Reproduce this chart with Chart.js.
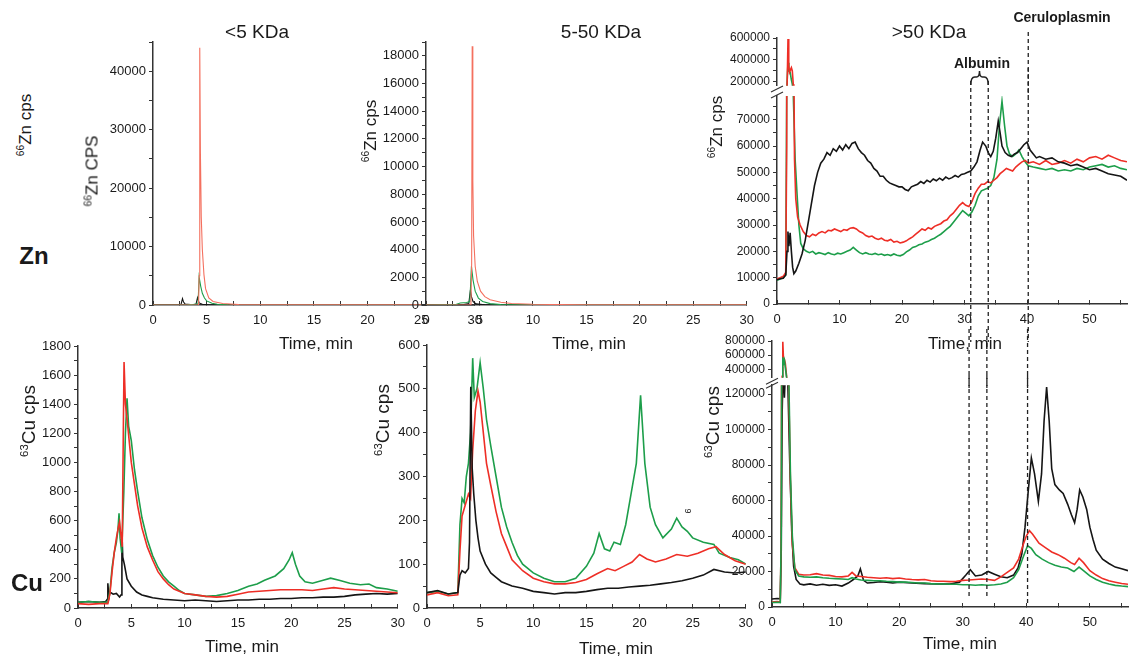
<!DOCTYPE html>
<html>
<head>
<meta charset="utf-8">
<script src="https://cdn.jsdelivr.net/npm/chart.js@4"></script>
<style>
  body { margin: 0; background: #fff; }
  #stage { position: relative; width: 1134px; height: 662px; overflow: hidden; background: #fff;
           font-family: "Liberation Sans", Arial, sans-serif; color: #1a1a1a; }
  #stage canvas { position: absolute; }
  .lbl { position: absolute; white-space: nowrap; transform: translate(-50%, -50%); line-height: 1; }
  .rot { transform: translate(-50%, -50%) rotate(-90deg); }
  .lbl sup { font-size: 0.6em; vertical-align: 0.6em; line-height: 0; }
</style>
</head>
<body>
<div id="stage"></div>
<script>
// ---- Zn, <5 KDa (time min, cps)
const znLowBlack = [[0,0],[2.6,0],[2.75,1100],[2.85,500],[3.0,150],[3.5,60],[4.0,80],[4.15,1250],[4.3,350],[4.6,120],[5.2,20],[8,0],[25,0]];
const znLowGreen = [[0,0],[3.2,40],[3.8,120],[4.2,200],[4.3,4800],[4.45,3200],[4.6,2000],[4.8,1200],[5.0,700],[5.5,300],[6.0,120],[7,40],[10,10],[25,0]];
const znLowRed = [[0,0],[4.25,0],[4.3,5000],[4.36,44000],[4.42,26000],[4.5,15000],[4.6,9500],[4.75,5200],[4.9,2800],[5.2,1200],[5.6,600],[6.5,250],[8,80],[10,40],[15,20],[25,15]];

// ---- Zn, 5-50 KDa
const znMidBlack = [[0,0],[2.5,0],[3.5,30],[4.0,100],[4.15,1050],[4.25,600],[4.4,250],[4.7,80],[5.5,10],[30,0]];
const znMidGreen = [[0,0],[2.8,40],[3.2,150],[3.8,180],[4.1,250],[4.25,2800],[4.4,1800],[4.6,1000],[4.9,500],[5.3,250],[6,100],[7,30],[30,0]];
const znMidRed = [[0,0],[4.2,0],[4.27,3000],[4.32,18700],[4.38,9000],[4.45,5000],[4.6,2800],[4.8,1700],[5.1,1000],[5.5,600],[6,380],[7,200],[8,110],[10,50],[15,20],[30,10]];

// ---- Zn, >50 KDa
const znHighBlack = [[0,9200],[0.5,9600],[1.0,9800],[1.4,11000],[1.6,20000],[1.75,27500],[1.9,22000],[2.1,27000],[2.3,20000],[2.5,14000],[2.7,11500],[3.0,12500],[3.5,15500],[4.0,19000],[4.5,24000],[5.0,31000],[5.5,38000],[6.0,45000],[6.5,50000],[7.0,53500],[7.5,55000],[8.0,57500],[8.5,56500],[9.0,59000],[9.5,58000],[10,60000],[10.5,58500],[11,60500],[11.5,59000],[12,61000],[12.5,61500],[13,59000],[13.5,57500],[14,56500],[14.5,54500],[15,53500],[15.5,51500],[16,50500],[16.5,48500],[17,48500],[17.5,47000],[18,46000],[18.5,45500],[19,45000],[19.5,44500],[20,44500],[20.5,43500],[21,43000],[21.5,44500],[22,45000],[22.5,45500],[23,46500],[23.5,45800],[24,47000],[24.5,46300],[25,47500],[25.5,46800],[26,47800],[26.5,47000],[27,48200],[27.5,47500],[28,48000],[28.5,48800],[29,48200],[29.5,49200],[30,49500],[30.5,50000],[31,50500],[31.5,52000],[32,54000],[32.5,58500],[32.9,61500],[33.4,60000],[33.8,57500],[34.2,56000],[34.6,58000],[35,63000],[35.4,69500],[35.7,65000],[36,60000],[36.5,57500],[37,56500],[37.5,56000],[38,57000],[38.5,57500],[39,59000],[39.5,60500],[40,61500],[40.5,58500],[41,57000],[41.5,55500],[42,56000],[43,55000],[44,55500],[45,54000],[46,53500],[47,52500],[48,53000],[49,52000],[50,51000],[51,51500],[52,50500],[53,49500],[54,49000],[55,48500],[56,47000]];
const znHighRed = [[0,9500],[0.5,10000],[1.0,10500],[1.4,12000],[1.55,60000],[1.65,250000],[1.76,590000],[1.88,350000],[2.0,290000],[2.15,310000],[2.3,330000],[2.45,300000],[2.6,180000],[2.7,90000],[2.8,55000],[3.0,40000],[3.3,33000],[3.7,30000],[4.2,27500],[4.7,26000],[5.2,25500],[5.7,26500],[6.2,26000],[6.7,27000],[7.2,27500],[7.7,27000],[8.2,28000],[8.7,27800],[9.2,28500],[9.7,28000],[10.2,27500],[10.7,28300],[11.2,28000],[11.7,28800],[12.2,29000],[12.7,28500],[13.2,27500],[13.7,27000],[14.2,26000],[14.7,25500],[15.2,25800],[15.7,25000],[16.2,24500],[16.7,25000],[17.2,24200],[17.7,24000],[18.2,24500],[18.7,23500],[19.2,23800],[19.7,23200],[20.2,23500],[20.7,24000],[21.2,24800],[21.7,25500],[22.2,26500],[22.7,27500],[23.2,28500],[23.7,28000],[24.2,29000],[24.7,28500],[25.2,29500],[25.7,30000],[26.2,30500],[26.7,31500],[27.2,32000],[27.7,33500],[28.2,34500],[28.7,36000],[29.2,37500],[29.7,38500],[30.2,37500],[30.7,37000],[31.2,39000],[31.7,42000],[32.2,44000],[32.7,45500],[33.2,45500],[33.7,46500],[34.2,46000],[34.7,47000],[35.2,48000],[35.7,49500],[36.2,50500],[36.7,51500],[37.2,51000],[37.7,50500],[38.2,52000],[38.7,53000],[39.2,54000],[39.7,54500],[40.2,53500],[41,54000],[42,53000],[43,54500],[44,53000],[45,53500],[46,54500],[47,53500],[48,55000],[49,54000],[50,55500],[51,56000],[52,55000],[53,56500],[54,55500],[55,54500],[56,54000]];
const znHighGreen = [[0,9000],[0.5,9500],[1.0,10000],[1.4,11000],[1.55,80000],[1.65,250000],[1.76,375000],[1.9,300000],[2.1,290000],[2.3,220000],[2.45,180000],[2.6,80000],[2.9,55000],[3.2,42000],[3.5,30000],[3.8,23000],[4.2,21000],[4.7,20000],[5.2,19500],[5.7,20000],[6.2,19000],[6.7,19500],[7.2,19200],[7.7,18800],[8.2,19500],[8.7,19000],[9.2,18700],[9.7,19300],[10.2,19000],[10.7,19500],[11.2,20000],[11.7,20500],[12.2,21500],[12.7,20500],[13.2,19500],[13.7,19000],[14.2,19500],[14.7,19000],[15.2,18800],[15.7,19200],[16.2,18700],[16.7,19000],[17.2,18500],[17.7,18800],[18.2,18400],[18.7,19000],[19.2,18500],[19.7,18300],[20.2,18800],[20.7,19800],[21.2,20500],[21.7,21500],[22.2,21800],[22.7,22500],[23.2,22800],[23.7,23500],[24.2,23800],[24.7,24500],[25.2,25000],[25.7,25800],[26.2,26500],[26.7,27500],[27.2,28500],[27.7,29500],[28.2,31000],[28.7,32500],[29.2,34000],[29.7,35500],[30.2,34500],[30.7,33500],[31.2,35000],[31.7,37500],[32.2,41000],[32.7,43000],[33.2,43500],[33.7,44000],[34.2,45000],[34.7,48000],[35.2,55000],[35.6,68000],[36,77000],[36.4,68000],[36.8,60000],[37.2,57000],[37.7,56000],[38.2,57000],[38.7,58500],[39.2,56000],[39.7,54000],[40.2,52500],[41,52000],[42,51500],[43,51000],[44,51500],[45,50500],[46,51000],[47,50500],[48,51500],[49,51000],[50,52000],[51,52500],[52,53000],[53,52000],[54,52500],[55,51500],[56,51000]];

// ---- Cu, <5 KDa
const cuLowBlack = [[0,40],[1,45],[2,40],[2.6,45],[2.75,60],[2.8,170],[2.9,70],[3.0,110],[3.3,95],[3.6,100],[3.9,75],[4.05,90],[4.12,520],[4.2,350],[4.35,300],[4.6,200],[5,150],[5.5,110],[6,90],[6.5,80],[7,70],[8,60],[9,55],[10,50],[11,55],[12,50],[13,45],[14,50],[15,55],[16,55],[17,60],[18,60],[19,65],[20,65],[21,70],[22,70],[23,75],[24,75],[25,80],[26,90],[27,95],[28,100],[29,95],[30,100]];
const cuLowRed = [[0,30],[1,25],[2,30],[2.8,30],[3.0,100],[3.2,250],[3.4,380],[3.6,480],[3.8,560],[3.9,590],[4.0,520],[4.15,420],[4.25,1200],[4.32,1690],[4.45,1400],[4.6,1300],[4.8,1150],[5.0,1000],[5.3,850],[5.6,700],[6.0,550],[6.5,420],[7,330],[7.5,250],[8,200],[8.5,160],[9,130],[9.5,115],[10,100],[11,90],[12,80],[13,75],[14,80],[15,95],[16,110],[17,115],[18,120],[19,125],[20,125],[21,125],[22,120],[23,130],[24,140],[25,130],[26,125],[27,120],[28,115],[29,110],[30,105]];
const cuLowGreen = [[0,40],[1,45],[2,40],[2.8,40],[3.0,120],[3.2,280],[3.4,380],[3.6,450],[3.75,540],[3.85,650],[3.95,480],[4.1,380],[4.3,800],[4.45,1200],[4.6,1440],[4.75,1250],[5.0,1150],[5.3,950],[5.6,800],[6.0,620],[6.5,470],[7,360],[7.5,280],[8,220],[8.5,180],[9,150],[9.5,120],[10,100],[11,90],[12,80],[13,85],[14,100],[15,120],[16,150],[16.8,165],[17.5,190],[18.5,220],[19.3,270],[19.8,330],[20.1,380],[20.4,300],[20.8,220],[21.3,180],[22,170],[23,190],[23.7,205],[24.5,190],[25.5,170],[26.5,160],[27.3,165],[28,140],[29,130],[30,115]];

// ---- Cu, 5-50 KDa
const cuMidBlack = [[0,35],[1,40],[2,32],[2.9,35],[3.1,75],[3.3,85],[3.6,80],[3.9,90],[4.0,150],[4.12,505],[4.25,320],[4.4,260],[4.6,200],[4.8,160],[5,130],[5.5,100],[6,80],[6.5,70],[7,60],[8,50],[9,45],[10,38],[11,35],[12,32],[13,35],[14,35],[15,38],[16,42],[17,45],[18,45],[19,48],[20,50],[21,52],[22,55],[23,58],[24,62],[25,68],[26,75],[27,88],[28,82],[29,80],[30,82]];
const cuMidRed = [[0,30],[1,35],[2,28],[2.9,30],[3.1,130],[3.3,210],[3.6,235],[3.9,260],[4.1,250],[4.3,360],[4.55,450],[4.8,495],[5.0,470],[5.3,400],[5.6,330],[6,280],[6.5,220],[7,170],[7.5,140],[8,110],[9,85],[10,68],[11,60],[12,55],[13,55],[14,58],[15,65],[16,78],[17,90],[17.7,85],[18.5,95],[19.3,105],[20,122],[20.7,112],[21.5,105],[22.5,112],[23.5,122],[24.5,118],[25.5,125],[26.5,135],[27.2,140],[28,122],[29,108],[30,100]];
const cuMidGreen = [[0,35],[1,38],[2,32],[2.9,35],[3.1,190],[3.3,250],[3.5,240],[3.7,300],[3.9,330],[4.1,400],[4.3,570],[4.45,480],[4.7,500],[5.0,560],[5.3,500],[5.6,430],[6,370],[6.5,300],[7,230],[7.5,185],[8,150],[8.5,120],[9,100],[10,80],[11,68],[12,60],[13,60],[14,68],[15,95],[15.7,125],[16.2,170],[16.7,135],[17.2,130],[17.6,150],[18.2,145],[18.7,190],[19.2,260],[19.7,330],[20.1,485],[20.5,330],[21,230],[21.5,190],[22.2,160],[23,180],[23.5,205],[24,185],[24.5,175],[25,160],[26,150],[27,145],[27.5,125],[28.5,115],[29.3,110],[30,100]];

// ---- Cu, >50 KDa
const cuHighBlack = [[0,4500],[0.8,4800],[1.3,4600],[1.45,30000],[1.6,110000],[1.75,135000],[1.95,118000],[2.2,140000],[2.5,125000],[2.8,80000],[3.1,43000],[3.4,23000],[3.8,15500],[4.4,13000],[5,12500],[6,13000],[7,12300],[8,12800],[9,12200],[10,12500],[11,11800],[12,13500],[12.8,15500],[13.5,17500],[13.9,21500],[14.4,15000],[15,13500],[16,13800],[17,14200],[18,14000],[19,13500],[20,14000],[22,13500],[24,13200],[26,13000],[28,13000],[29.5,14000],[30.5,18000],[31.2,21000],[32,17500],[33,18000],[34,20000],[35,18500],[36,17000],[37,16500],[38,18000],[38.7,22000],[39.3,30000],[39.8,45000],[40.3,65000],[40.8,84000],[41.3,75000],[41.9,59500],[42.4,75000],[42.8,105000],[43.2,124000],[43.6,105000],[44,78000],[44.5,69000],[45.2,66000],[45.8,64000],[46.5,58000],[47.1,52000],[47.6,47500],[48,55000],[48.4,66000],[48.9,62000],[49.5,55000],[50,45000],[50.5,38000],[51,32000],[52,27000],[53,24500],[54,22500],[55,21500],[56,20500]];
const cuHighRed = [[0,2800],[0.8,3000],[1.3,2800],[1.45,40000],[1.6,300000],[1.7,790000],[1.8,560000],[1.95,540000],[2.1,480000],[2.3,300000],[2.6,130000],[2.9,70000],[3.2,35000],[3.6,22000],[4.2,18500],[5,18000],[6,18200],[7,18800],[8,18000],[9,17800],[10,17200],[11,17000],[12,17500],[12.6,19500],[13.2,17500],[14,17200],[15,16800],[16,16500],[17,16200],[18,16500],[19,16000],[20,16300],[21,15800],[22,15500],[23,15300],[24,15500],[25,14800],[26,14500],[27,14500],[28,14300],[29,14500],[30,15000],[31,15200],[32,15500],[33,15800],[34,15500],[35,15000],[36,17000],[37,19500],[38,22000],[38.8,27000],[39.5,35000],[40,40000],[40.5,43000],[41,41000],[42,36000],[43,33500],[44,31000],[45,29500],[46,27500],[47,25000],[47.6,24000],[48.3,27500],[49,25000],[50,20500],[51,18000],[52,16000],[53,14800],[54,14000],[55,13200],[56,12800]];
const cuHighGreen = [[0,2500],[0.8,2700],[1.3,2500],[1.45,40000],[1.6,250000],[1.7,570000],[1.8,480000],[1.95,530000],[2.1,420000],[2.3,280000],[2.6,140000],[2.9,75000],[3.2,40000],[3.6,21000],[4.2,17500],[5,17000],[6,16800],[7,17000],[8,16500],[9,16200],[10,16000],[11,15800],[12,15500],[12.6,16500],[13.2,15800],[14,15200],[15,15000],[16,14800],[17,14800],[18,14500],[19,14300],[20,14000],[21,14000],[22,13800],[23,13500],[24,13500],[25,13200],[26,13000],[27,13000],[28,12800],[29,12800],[30,12500],[31,12500],[32,12300],[33,12500],[34,12300],[35,12500],[36,13000],[37,14000],[38,16500],[38.8,21000],[39.5,28000],[40.2,34500],[40.8,33000],[41.5,29500],[42.5,27000],[43.5,25000],[44.5,23500],[45.5,22500],[46.5,22000],[47.5,20000],[48.3,22500],[49,20500],[50,17500],[51,15500],[52,14000],[53,13000],[54,12200],[55,11800],[56,11500]];

// tick labels (major ticks; minor ticks sit halfway)
const xTicks30 = [0, 5, 10, 15, 20, 25, 30];
const xTicks56 = [0, 10, 20, 30, 40, 50];
const yTicksZnLow = [0, 10000, 20000, 30000, 40000];
const yTicksZnMid = [0, 2000, 4000, 6000, 8000, 10000, 12000, 14000, 16000, 18000];
const yTicksZnHighTop = [200000, 400000, 600000];
const yTicksZnHighBottom = [0, 10000, 20000, 30000, 40000, 50000, 60000, 70000];
const yTicksCuLow = [0, 200, 400, 600, 800, 1000, 1200, 1400, 1600, 1800];
const yTicksCuMid = [0, 100, 200, 300, 400, 500, 600];
const yTicksCuHighTop = [400000, 600000, 800000];
const yTicksCuHighBottom = [0, 20000, 40000, 60000, 80000, 100000, 120000];

// albumin (two lines) and ceruloplasmin elution times
const albuminTimes = [31, 33.8];
const ceruloplasminTime = 40.2;

const RED = '#ee2e26', RED_LIGHT = '#f4705f', GREEN = '#1d9e4a', BLACK = '#151515';
const FONT = '"Liberation Sans", Arial, sans-serif';
Chart.defaults.font.family = FONT;
Chart.defaults.color = '#1a1a1a';

const stage = document.getElementById('stage');
const YW = 80, XH = 38;

// dashed marker lines + albumin bracket
const vmarks = {
  id: 'vmarks',
  afterDatasetsDraw(chart, args, o) {
    if (!o || !o.lines) return;
    const { ctx, chartArea: a } = chart;
    const x = chart.scales.x;
    ctx.save();
    ctx.strokeStyle = '#222';
    ctx.lineWidth = 1.3;
    ctx.setLineDash([4, 3]);
    o.lines.forEach(l => {
      const px = x.getPixelForValue(l.t);
      const y0 = l.from === 'canvas' ? 0 : a.top + l.from;
      const y1 = l.to === 'canvas' ? chart.height : a.bottom + l.to;
      ctx.beginPath(); ctx.moveTo(px, y0); ctx.lineTo(px, y1); ctx.stroke();
    });
    ctx.setLineDash([]);
    if (o.bracket) {
      const x1 = x.getPixelForValue(o.bracket.t1), x2 = x.getPixelForValue(o.bracket.t2);
      const xm = (x1 + x2) / 2, y = a.top + o.bracket.dy;
      ctx.lineWidth = 1.5;
      ctx.beginPath();
      ctx.moveTo(x1, y + 8);
      ctx.quadraticCurveTo(x1, y, x1 + 4, y);
      ctx.lineTo(xm - 3, y);
      ctx.quadraticCurveTo(xm, y, xm, y - 6);
      ctx.quadraticCurveTo(xm, y, xm + 3, y);
      ctx.lineTo(x2 - 4, y);
      ctx.quadraticCurveTo(x2, y, x2, y + 8);
      ctx.stroke();
    }
    ctx.restore();
  }
};

// "//" axis break marks at the top of a lower segment
const axisBreak = {
  id: 'axisBreak',
  afterDraw(chart, args, o) {
    if (!o || !o.on) return;
    const { ctx, chartArea: a } = chart;
    ctx.save();
    ctx.strokeStyle = '#333';
    ctx.lineWidth = 1.2;
    [o.gap1, o.gap2].forEach(d => {
      ctx.beginPath();
      ctx.moveTo(a.left - 6, a.top - d + 3);
      ctx.lineTo(a.left + 6, a.top - d - 3);
      ctx.stroke();
    });
    ctx.restore();
  }
};

// major ticks from the arrays, plus minor ticks halfway between
function setTicks(ax) {
  return s => {
    const m = ax.major;
    const vals = m.slice();
    if (ax.minor !== false) {
      const half = (m[1] - m[0]) / 2;
      [m[0] - half, ...m.map(v => v + half)].forEach(v => {
        if (v >= ax.min - 1e-9 && v <= ax.max + 1e-9) vals.push(v);
      });
    }
    vals.sort((a, b) => a - b);
    s.ticks = vals.map(v => ({ value: v }));
  };
}
const tickLabel = ax => v => (ax.major.includes(v) ? String(v) : '');

function panel(p) {
  const padT = p.padT ?? 12, padR = 14;
  const showX = p.x.show !== false;
  const xh = showX ? XH : 0;
  const padB = showX ? 0 : 8;
  const w = (p.r - p.l) + YW + padR;
  const h = (p.b - p.t) + padT + xh + padB;
  const c = document.createElement('canvas');
  c.width = w; c.height = h;
  c.style.left = (p.l - YW) + 'px';
  c.style.top = (p.t - padT) + 'px';
  c.style.width = w + 'px'; c.style.height = h + 'px';
  stage.appendChild(c);

  new Chart(c, {
    type: 'line',
    data: {
      datasets: p.series.map(s => ({
        data: s.pts.map(([x, y]) => ({ x, y })),
        borderColor: s.color,
        borderWidth: p.lw || 1.6,
        pointRadius: 0,
        tension: 0
      }))
    },
    options: {
      responsive: false,
      animation: false,
      events: [],
      layout: { autoPadding: false, padding: { top: padT, right: padR, bottom: padB, left: 0 } },
      plugins: {
        legend: { display: false },
        tooltip: { enabled: false },
        vmarks: p.marks || {},
        axisBreak: p.brk || {}
      },
      scales: {
        x: {
          type: 'linear',
          display: showX,
          bounds: 'data',
          min: p.x.min, max: p.x.max,
          afterBuildTicks: setTicks(p.x),
          afterFit: s => { s.height = xh; },
          border: { color: '#333', width: 1.5 },
          grid: { drawOnChartArea: false, drawTicks: true, tickLength: -4, color: '#333' },
          ticks: { autoSkip: false, maxRotation: 0, padding: 12, font: { size: 13 },
                   color: '#1a1a1a', callback: tickLabel(p.x) }
        },
        y: {
          type: 'linear',
          bounds: 'data',
          min: p.y.min, max: p.y.max,
          afterBuildTicks: setTicks(p.y),
          afterFit: s => { s.width = YW; },
          border: { color: '#333', width: 1.5 },
          grid: { drawOnChartArea: false, drawTicks: true, tickLength: 4, color: '#333' },
          ticks: { autoSkip: false, padding: 3, font: { size: p.y.font || 13 },
                   color: '#1a1a1a', callback: tickLabel(p.y) }
        }
      }
    },
    plugins: [vmarks, axisBreak]
  });
}

const x30 = { min: 0, max: 30, major: xTicks30 };
const x56 = { min: 0, max: 56, major: xTicks56 };
const x56hidden = { min: 0, max: 56, major: xTicks56, show: false };

// top row: Zn
panel({ l: 153, r: 480, t: 42, b: 305, lw: 1.1, x: x30, y: { min: 0, max: 45000, major: yTicksZnLow },
  series: [{ pts: znLowRed, color: RED_LIGHT }, { pts: znLowGreen, color: GREEN }, { pts: znLowBlack, color: BLACK }] });
panel({ l: 426, r: 752, t: 42, b: 305, lw: 1.1, x: x30, y: { min: 0, max: 19000, major: yTicksZnMid },
  series: [{ pts: znMidRed, color: RED_LIGHT }, { pts: znMidGreen, color: GREEN }, { pts: znMidBlack, color: BLACK }] });

const znHighSeries = [{ pts: znHighBlack, color: BLACK }, { pts: znHighRed, color: RED }, { pts: znHighGreen, color: GREEN }];
panel({ l: 777, r: 1127, t: 38, b: 88, x: x56hidden, y: { min: 165000, max: 600000, major: yTicksZnHighTop, font: 12 },
  series: znHighSeries,
  marks: { lines: [{ t: ceruloplasminTime, from: -6, to: 'canvas' }] } });
panel({ l: 777, r: 1127, t: 96, b: 304, padT: 28, x: x56, y: { min: 0, max: 79000, major: yTicksZnHighBottom, font: 12 },
  series: znHighSeries,
  brk: { on: true, gap1: 1, gap2: 7 },
  marks: {
    lines: [{ t: albuminTimes[0], from: -15, to: 'canvas' }, { t: albuminTimes[1], from: -15, to: 'canvas' },
            { t: ceruloplasminTime, from: 'canvas', to: 'canvas' }],
    bracket: { t1: albuminTimes[0], t2: albuminTimes[1], dy: -19 }
  } });

// bottom row: Cu
panel({ l: 78, r: 403, t: 346, b: 608, x: x30, y: { min: 0, max: 1800, major: yTicksCuLow },
  series: [{ pts: cuLowRed, color: RED }, { pts: cuLowGreen, color: GREEN }, { pts: cuLowBlack, color: BLACK }] });
panel({ l: 427, r: 751, t: 345, b: 608, x: x30, y: { min: 0, max: 600, major: yTicksCuMid },
  series: [{ pts: cuMidBlack, color: BLACK }, { pts: cuMidRed, color: RED }, { pts: cuMidGreen, color: GREEN }] });

const cuHighSeries = [{ pts: cuHighGreen, color: GREEN }, { pts: cuHighRed, color: RED }, { pts: cuHighBlack, color: BLACK }];
panel({ l: 772, r: 1128, t: 341, b: 380, x: x56hidden, y: { min: 280000, max: 800000, major: yTicksCuHighTop, minor: false, font: 12 },
  series: cuHighSeries,
  marks: { lines: [{ t: albuminTimes[0], from: 'canvas', to: 'canvas' }, { t: albuminTimes[1], from: 'canvas', to: 'canvas' },
                   { t: ceruloplasminTime, from: 'canvas', to: 'canvas' }] } });
panel({ l: 772, r: 1128, t: 383, b: 607, padT: 8, x: x56, y: { min: 0, max: 125000, major: yTicksCuHighBottom, font: 12 },
  series: cuHighSeries,
  brk: { on: true, gap1: 0, gap2: 4 },
  marks: { lines: [{ t: albuminTimes[0], from: 'canvas', to: -10 }, { t: albuminTimes[1], from: 'canvas', to: -10 },
                   { t: ceruloplasminTime, from: 'canvas', to: -4 }] } });

// text
const texts = [
  { html: '&lt;5 KDa', x: 257, y: 31, size: 19 },
  { html: '5-50 KDa', x: 601, y: 31, size: 19 },
  { html: '&gt;50 KDa', x: 929, y: 31, size: 19 },
  { html: 'Ceruloplasmin', x: 1062, y: 17, size: 14, bold: true },
  { html: 'Albumin', x: 982, y: 63, size: 14, bold: true },
  { html: 'Zn', x: 34, y: 256, size: 24, bold: true },
  { html: 'Cu', x: 27, y: 583, size: 24, bold: true },
  { html: '<sup>66</sup>Zn cps', x: 25, y: 125, size: 17, rot: true },
  { html: '<sup>66</sup>Zn CPS', x: 92, y: 171, size: 17, rot: true },
  { html: '<sup>66</sup>Zn cps', x: 370, y: 131, size: 17, rot: true },
  { html: '<sup>66</sup>Zn cps', x: 716, y: 127, size: 17, rot: true },
  { html: '<sup>63</sup>Cu cps', x: 28, y: 421, size: 19, rot: true },
  { html: '<sup>63</sup>Cu cps', x: 382, y: 420, size: 19, rot: true },
  { html: '<sup>63</sup>Cu cps', x: 712, y: 422, size: 19, rot: true },
  { html: 'Time, min', x: 316, y: 343, size: 17 },
  { html: 'Time, min', x: 589, y: 343, size: 17 },
  { html: 'Time, min', x: 965, y: 343, size: 17 },
  { html: 'Time, min', x: 242, y: 646, size: 17 },
  { html: 'Time, min', x: 616, y: 648, size: 17 },
  { html: 'Time, min', x: 960, y: 643, size: 17 },
  { html: '6', x: 688, y: 511, size: 9, rot: true }
];
texts.forEach(t => {
  const d = document.createElement('div');
  d.className = 'lbl' + (t.rot ? ' rot' : '');
  d.innerHTML = t.html;
  d.style.left = t.x + 'px';
  d.style.top = t.y + 'px';
  d.style.fontSize = t.size + 'px';
  if (t.bold) d.style.fontWeight = 'bold';
  stage.appendChild(d);
});
</script>
</body>
</html>
